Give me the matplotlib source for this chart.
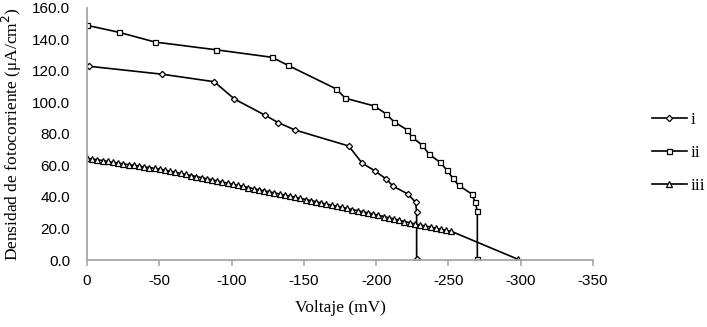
import numpy as np
import matplotlib
matplotlib.use("Agg")
import matplotlib.pyplot as plt

# serie i (rombos)
v_i = [-1.4, -51.6, -88, -102, -123, -132.3, -144, -181, -190.4, -199, -207,
       -211.8, -222, -227.3, -228, -228]
j_i = [123, 118, 113.2, 102.2, 92, 87.2, 82.5, 72.4, 61.4, 56.7, 51.4,
       46.8, 41.9, 36.6, 30.7, 0.5]

# serie ii (cuadrados)
v_ii = [0, -22, -47, -89, -128, -139, -172.4, -178.7, -198.7, -207, -212.3,
        -221.3, -225, -232, -236.7, -244.3, -249, -253, -257, -266, -268.5,
        -270, -270]
j_ii = [149, 144.6, 138.4, 133.5, 128.7, 123.6, 108.6, 102.7, 97.8, 92.7, 87.8,
        82.7, 77.9, 72.8, 67.1, 62, 57, 52, 47.4, 42, 36.8, 31, 0.5]

# serie iii (triangulos)
v_iii = [0, -3.6, -7.2, -10.8, -14.4, -18, -21.6, -25.2, -28.8, -32.4, -36,
         -39.6, -43.2, -46.8, -50.4, -54, -57.6, -61.2, -64.8, -68.4, -72,
         -75.6, -79.2, -82.8, -86.4, -90, -93.6, -97.2, -100.8, -104.4, -108,
         -111.6, -115.2, -118.8, -122.4, -126, -129.6, -133.2, -136.8, -140.4,
         -144, -147.6, -151.2, -154.8, -158.4, -162, -165.6, -169.2, -172.8,
         -176.4, -180, -183.6, -187.2, -190.8, -194.4, -198, -201.6, -205.2,
         -208.8, -212.4, -216, -219.6, -223.2, -226.8, -230.4, -234, -237.6,
         -241.2, -244.8, -248.4, -252, -298]
j_iii = [64.6, 64.1, 63.6, 63.1, 62.6, 62.0, 61.5, 61.0, 60.5, 60.1, 59.6,
         59.1, 58.7, 58.2, 57.7, 57.0, 56.3, 55.7, 55.0, 54.3, 53.6,
         53.0, 52.3, 51.6, 50.9, 50.2, 49.5, 48.8, 48.1, 47.4, 46.7,
         46.0, 45.3, 44.6, 44.0, 43.3, 42.6, 41.9, 41.2, 40.5,
         39.8, 39.1, 38.4, 37.7, 37.0, 36.2, 35.5, 34.8, 34.1,
         33.4, 32.7, 32.0, 31.3, 30.6, 29.9, 29.2, 28.4, 27.6,
         26.8, 26.0, 25.2, 24.4, 23.7, 22.9, 22.2, 21.6, 20.9,
         20.2, 19.5, 18.8, 18.2, 0.5]

x_ticks = [0, -50, -100, -150, -200, -250, -300, -350]
y_ticks = np.arange(0, 161, 20)

fig = plt.figure(figsize=(7.07, 3.27), dpi=100)
ax = fig.add_axes([87 / 707, 1 - 260 / 327, (593 - 87) / 707, (260 - 8) / 327])

mk = dict(color="black", lw=1.2, markerfacecolor="white", markeredgecolor="black",
          markeredgewidth=0.9)
ax.plot(v_i, j_i, marker="D", markersize=3.2, label="i", **mk)
ax.plot(v_ii, j_ii, marker="s", markersize=3.6, label="ii", **mk)
ax.plot(v_iii, j_iii, marker="^", markersize=3.8, label="iii", **mk)

ax.set_xlim(0, -350)
ax.set_ylim(0, 160)
ax.set_xticks(x_ticks)
ax.set_xticklabels([str(t) for t in x_ticks])
ax.set_yticks(y_ticks)
ax.set_yticklabels([f"{t:.1f}" for t in y_ticks])

for s in ["top", "right"]:
    ax.spines[s].set_visible(False)
for s in ["left", "bottom"]:
    ax.spines[s].set_color("#a6a6a6")
    ax.spines[s].set_linewidth(1.3)

ax.tick_params(axis="x", length=4, width=1.2, color="#a6a6a6", pad=6,
               labelsize=11, labelfontfamily="Liberation Sans")
ax.tick_params(axis="y", length=0, pad=12, labelsize=11,
               labelfontfamily="Liberation Sans")

ax.set_xlabel("Voltaje (mV)", family="Liberation Serif", fontsize=12.5, labelpad=9)
ax.set_ylabel("Densidad de fotocorriente (μA/cm$^2$)", family="Liberation Serif",
              fontsize=12.5, labelpad=6)

leg = fig.legend(loc="center left", bbox_to_anchor=(652 / 707, 1 - 153 / 327),
                 frameon=False, prop={"family": "Liberation Serif", "size": 12.5},
                 labelspacing=0.95, handlelength=2.0, handletextpad=0.2,
                 borderaxespad=0, borderpad=0)

fig.savefig("out.png", dpi=100)
